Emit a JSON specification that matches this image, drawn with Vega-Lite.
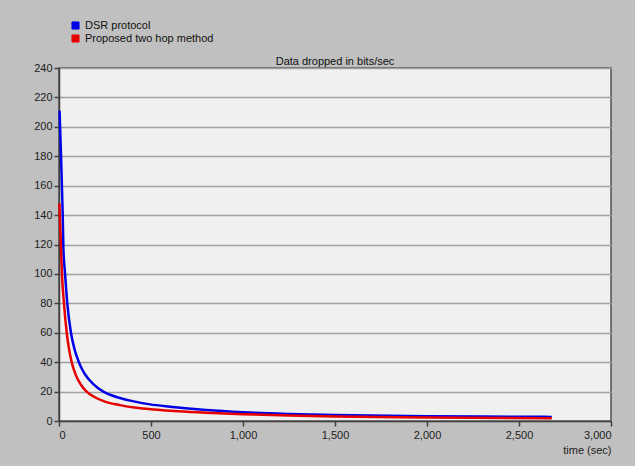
{
  "$schema": "https://vega.github.io/schema/vega-lite/v6.json",
  "autosize": "none",
  "width": 552,
  "height": 353,
  "padding": {"left": 59, "top": 68, "right": 24, "bottom": 45},
  "background": "#c0c0c0",
  "title": {"text": "Data dropped in bits/sec", "anchor": "middle", "fontSize": 11, "fontWeight": "normal", "font": "Liberation Sans", "color": "#111111", "offset": 3, "dy": 50},
  "config": {
    "view": {"fill": "#f0f0f0", "stroke": "#505050", "strokeWidth": 1.5},
    "axis": {"labelFont": "Liberation Sans", "titleFont": "Liberation Sans", "labelFontSize": 11, "titleFontSize": 11, "labelColor": "#202020", "titleColor": "#202020", "titleFontWeight": "normal", "domainColor": "#404040", "tickColor": "#404040", "domainWidth": 1.5, "tickWidth": 1.5, "tickSize": 5}
  },
  "data": {"values": [
    {"t": 3, "v": 211, "s": "DSR protocol"},
    {"t": 11, "v": 180, "s": "DSR protocol"},
    {"t": 20, "v": 141, "s": "DSR protocol"},
    {"t": 24, "v": 117, "s": "DSR protocol"},
    {"t": 33, "v": 100, "s": "DSR protocol"},
    {"t": 45, "v": 80, "s": "DSR protocol"},
    {"t": 65, "v": 60, "s": "DSR protocol"},
    {"t": 85, "v": 48.5, "s": "DSR protocol"},
    {"t": 105, "v": 41, "s": "DSR protocol"},
    {"t": 120, "v": 36.5, "s": "DSR protocol"},
    {"t": 141, "v": 31.8, "s": "DSR protocol"},
    {"t": 185, "v": 25.3, "s": "DSR protocol"},
    {"t": 241, "v": 20, "s": "DSR protocol"},
    {"t": 300, "v": 16.8, "s": "DSR protocol"},
    {"t": 400, "v": 13.5, "s": "DSR protocol"},
    {"t": 495, "v": 11.3, "s": "DSR protocol"},
    {"t": 603, "v": 9.7, "s": "DSR protocol"},
    {"t": 800, "v": 7.4, "s": "DSR protocol"},
    {"t": 1000, "v": 5.9, "s": "DSR protocol"},
    {"t": 1250, "v": 4.8, "s": "DSR protocol"},
    {"t": 1500, "v": 4.1, "s": "DSR protocol"},
    {"t": 2000, "v": 3.3, "s": "DSR protocol"},
    {"t": 2300, "v": 3.0, "s": "DSR protocol"},
    {"t": 2678, "v": 2.8, "s": "DSR protocol"},
    {"t": 2, "v": 148, "s": "Proposed two hop method"},
    {"t": 11, "v": 117, "s": "Proposed two hop method"},
    {"t": 16, "v": 100, "s": "Proposed two hop method"},
    {"t": 27, "v": 80, "s": "Proposed two hop method"},
    {"t": 42, "v": 60, "s": "Proposed two hop method"},
    {"t": 55, "v": 48.5, "s": "Proposed two hop method"},
    {"t": 69, "v": 40, "s": "Proposed two hop method"},
    {"t": 92, "v": 31, "s": "Proposed two hop method"},
    {"t": 120, "v": 24.5, "s": "Proposed two hop method"},
    {"t": 150, "v": 20, "s": "Proposed two hop method"},
    {"t": 190, "v": 16.5, "s": "Proposed two hop method"},
    {"t": 250, "v": 13.2, "s": "Proposed two hop method"},
    {"t": 331, "v": 10.8, "s": "Proposed two hop method"},
    {"t": 420, "v": 9.0, "s": "Proposed two hop method"},
    {"t": 520, "v": 7.8, "s": "Proposed two hop method"},
    {"t": 650, "v": 6.6, "s": "Proposed two hop method"},
    {"t": 800, "v": 5.6, "s": "Proposed two hop method"},
    {"t": 1000, "v": 4.6, "s": "Proposed two hop method"},
    {"t": 1250, "v": 3.7, "s": "Proposed two hop method"},
    {"t": 1500, "v": 3.1, "s": "Proposed two hop method"},
    {"t": 2000, "v": 2.4, "s": "Proposed two hop method"},
    {"t": 2678, "v": 1.8, "s": "Proposed two hop method"}
  ]},
  "mark": {"type": "line", "strokeWidth": 2.5, "interpolate": "monotone"},
  "encoding": {
    "x": {"field": "t", "type": "quantitative", "scale": {"domain": [0, 3000], "nice": false},
      "axis": {"values": [0, 500, 1000, 1500, 2000, 2500, 3000], "format": ",d", "grid": false, "title": "time (sec)", "titleAnchor": "end", "titleAlign": "right", "titlePadding": 4, "labelPadding": 3}},
    "y": {"field": "v", "type": "quantitative", "scale": {"domain": [0, 240], "nice": false},
      "axis": {"values": [0, 20, 40, 60, 80, 100, 120, 140, 160, 180, 200, 220, 240], "title": null, "grid": true, "gridColor": "#a0a0a0", "gridWidth": 1.5, "labelPadding": 2}},
    "color": {"field": "s", "type": "nominal",
      "scale": {"domain": ["DSR protocol", "Proposed two hop method"], "range": ["#0000e6", "#e60000"]},
      "legend": {"title": null, "orient": "none", "legendX": 11, "legendY": -48, "symbolType": "square", "symbolSize": 50, "symbolStrokeColor": "#202040", "symbolStrokeWidth": 1, "symbolOpacity": 1, "labelFont": "Liberation Sans", "labelFontSize": 11, "labelColor": "#111111", "rowPadding": 0, "labelOffset": 4,
        "encode": {"symbols": {"update": {"fill": {"scale": "color", "field": "value"}, "stroke": {"value": "#202040"}, "strokeWidth": {"value": 1}}}}}}
  }
}
